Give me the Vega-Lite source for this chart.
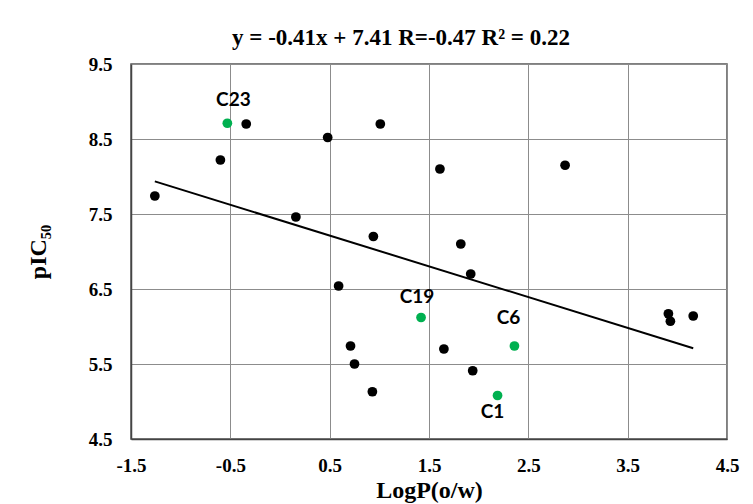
{
  "$schema": "https://vega.github.io/schema/vega-lite/v6.json",
  "autosize": {"type": "none"},
  "padding": {"left": 131, "top": 64, "right": 26, "bottom": 65},
  "width": 596,
  "height": 375,
  "background": "white",
  "title": {
    "text": "y = -0.41x + 7.41 R=-0.47 R² = 0.22",
    "font": "Liberation Serif",
    "fontSize": 23,
    "fontWeight": "bold",
    "color": "black",
    "anchor": "middle",
    "dx": -28,
    "offset": 5
  },
  "data": {
    "values": [
      {"logp": -0.53, "pic50": 8.71, "compound": "C23", "group": "highlight"},
      {"logp": -0.34, "pic50": 8.70, "compound": "", "group": "other"},
      {"logp": -0.60, "pic50": 8.22, "compound": "", "group": "other"},
      {"logp": -1.26, "pic50": 7.74, "compound": "", "group": "other"},
      {"logp": 0.48, "pic50": 8.52, "compound": "", "group": "other"},
      {"logp": 1.01, "pic50": 8.70, "compound": "", "group": "other"},
      {"logp": 0.16, "pic50": 7.46, "compound": "", "group": "other"},
      {"logp": 0.94, "pic50": 7.20, "compound": "", "group": "other"},
      {"logp": 1.61, "pic50": 8.10, "compound": "", "group": "other"},
      {"logp": 2.87, "pic50": 8.15, "compound": "", "group": "other"},
      {"logp": 1.82, "pic50": 7.10, "compound": "", "group": "other"},
      {"logp": 1.92, "pic50": 6.70, "compound": "", "group": "other"},
      {"logp": 1.42, "pic50": 6.12, "compound": "C19", "group": "highlight"},
      {"logp": 2.36, "pic50": 5.74, "compound": "C6", "group": "highlight"},
      {"logp": 1.65, "pic50": 5.70, "compound": "", "group": "other"},
      {"logp": 1.94, "pic50": 5.41, "compound": "", "group": "other"},
      {"logp": 2.19, "pic50": 5.08, "compound": "C1", "group": "highlight"},
      {"logp": 3.91, "pic50": 6.17, "compound": "", "group": "other"},
      {"logp": 3.93, "pic50": 6.07, "compound": "", "group": "other"},
      {"logp": 4.16, "pic50": 6.14, "compound": "", "group": "other"},
      {"logp": 0.59, "pic50": 6.54, "compound": "", "group": "other"},
      {"logp": 0.71, "pic50": 5.74, "compound": "", "group": "other"},
      {"logp": 0.75, "pic50": 5.50, "compound": "", "group": "other"},
      {"logp": 0.93, "pic50": 5.13, "compound": "", "group": "other"}
    ]
  },
  "encoding": {
    "x": {
      "field": "logp",
      "type": "quantitative",
      "title": "LogP(o/w)",
      "scale": {"domain": [-1.5, 4.5], "nice": false, "zero": false},
      "axis": {
        "values": [-1.5, -0.5, 0.5, 1.5, 2.5, 3.5, 4.5],
        "labelExpr": "replace(format(datum.value, '.1f'), '\u2212', '-')",
        "labelPadding": 17,
        "titlePadding": 3
      }
    },
    "y": {
      "field": "pic50",
      "type": "quantitative",
      "title": "pIC₅₀",
      "scale": {"domain": [4.5, 9.5], "nice": false, "zero": false},
      "axis": {
        "values": [4.5, 5.5, 6.5, 7.5, 8.5, 9.5],
        "labelExpr": "format(datum.value, '.1f')",
        "labelPadding": 19,
        "titlePadding": 38
      }
    }
  },
  "layer": [
    {
      "mark": {"type": "line", "color": "black", "strokeWidth": 2},
      "transform": [{"regression": "pic50", "on": "logp"}],
      "encoding": {}
    },
    {
      "mark": {"type": "circle", "size": 95, "opacity": 1},
      "encoding": {
        "color": {
          "field": "group",
          "type": "nominal",
          "scale": {"domain": ["other", "highlight"], "range": ["#000000", "#00B050"]},
          "legend": null
        }
      }
    },
    {
      "transform": [{"filter": "datum.compound === 'C23'"}],
      "mark": {"type": "text", "font": "Lato", "fontWeight": "bold", "fontSize": 19, "color": "black", "dx": 6, "dy": -23},
      "encoding": {"text": {"field": "compound"}}
    },
    {
      "transform": [{"filter": "datum.compound === 'C19'"}],
      "mark": {"type": "text", "font": "Lato", "fontWeight": "bold", "fontSize": 19, "color": "black", "dx": -4, "dy": -21},
      "encoding": {"text": {"field": "compound"}}
    },
    {
      "transform": [{"filter": "datum.compound === 'C6'"}],
      "mark": {"type": "text", "font": "Lato", "fontWeight": "bold", "fontSize": 19, "color": "black", "dx": -6, "dy": -28},
      "encoding": {"text": {"field": "compound"}}
    },
    {
      "transform": [{"filter": "datum.compound === 'C1'"}],
      "mark": {"type": "text", "font": "Lato", "fontWeight": "bold", "fontSize": 19, "color": "black", "dx": -5, "dy": 16},
      "encoding": {"text": {"field": "compound"}}
    }
  ],
  "config": {
    "view": {"stroke": "#555555", "strokeWidth": 1.5},
    "axis": {
      "labelFont": "Liberation Serif",
      "labelFontSize": 19,
      "labelFontWeight": "bold",
      "labelColor": "black",
      "labelBound": false,
      "labelFlush": false,
      "labelOverlap": false,
      "titleFont": "Liberation Serif",
      "titleFontSize": 24,
      "titleFontWeight": "bold",
      "titleColor": "black",
      "ticks": false,
      "domainColor": "#444444",
      "domainWidth": 1.5,
      "grid": true,
      "gridColor": "#8c8c8c",
      "gridWidth": 1,
      "gridOpacity": 1
    }
  }
}
